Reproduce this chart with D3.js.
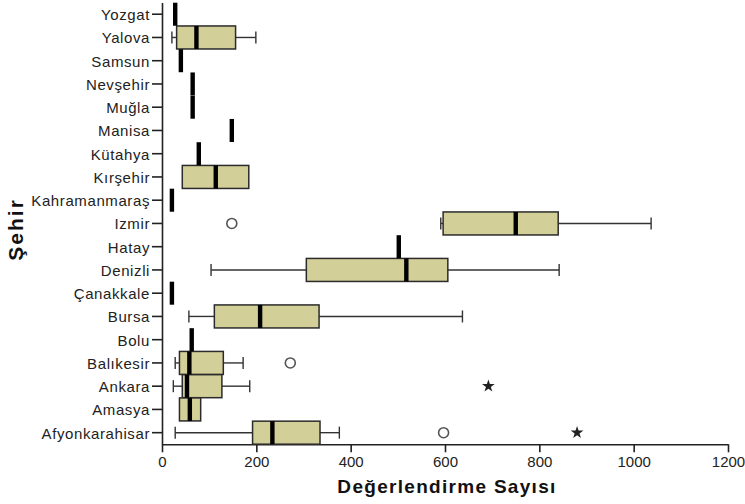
<!DOCTYPE html>
<html>
<head>
<meta charset="utf-8">
<script src="https://cdn.jsdelivr.net/npm/d3@7"></script>
<style>
  body { margin: 0; background: #fff; }
  svg { display: block; }
  .tick text { font-family: "Liberation Sans", Arial, sans-serif; fill: #222; }
</style>
</head>
<body>
<div id="chart"></div>
<script>
// cities top to bottom, as on the y axis
const cities = ["Yozgat", "Yalova", "Samsun", "Nevşehir", "Muğla", "Manisa", "Kütahya",
  "Kırşehir", "Kahramanmaraş", "Izmir", "Hatay", "Denizli", "Çanakkale", "Bursa",
  "Bolu", "Balıkesir", "Ankara", "Amasya", "Afyonkarahisar"];

// box plot stats (Değerlendirme Sayısı)
const lowWhisker = [28, 21, 40, 65, 65, 148, 78, 43, 21, 591, 502, 104, 21, 57, 63, 28, 24, 37, 28];
const q1 = [28, 31, 40, 65, 65, 148, 78, 43, 21, 596, 502, 306, 21, 111, 63, 37, 43, 37, 192];
const median = [28, 73, 40, 65, 65, 148, 78, 114, 21, 750, 502, 518, 21, 208, 63, 58, 53, 59, 234];
const q3 = [28, 156, 40, 65, 65, 148, 78, 184, 21, 840, 502, 606, 21, 333, 63, 130, 127, 82, 335];
const highWhisker = [28, 199, 40, 65, 65, 148, 78, 184, 21, 1037, 502, 842, 21, 637, 63, 172, 186, 82, 376];

// outliers (circles) and extremes (stars)
const outlierCity = ["Izmir", "Balıkesir", "Afyonkarahisar"];
const outlierValue = [148, 272, 597];
const extremeCity = ["Ankara", "Afyonkarahisar"];
const extremeValue = [692, 880];

const xTicks = [0, 200, 400, 600, 800, 1000, 1200];

const width = 745, height = 504;
const margin = { top: 2.6, right: 17, bottom: 59.7, left: 162 };

const svg = d3.select("#chart").append("svg")
  .attr("width", width)
  .attr("height", height);

const x = d3.scaleLinear()
  .domain([0, 1200])
  .range([margin.left, width - margin.right]);

const y = d3.scaleBand()
  .domain(cities)
  .range([margin.top, height - margin.bottom])
  .padding(0);

const boxH = y.bandwidth() * 0.99;
const capH = 12;
const cy = (c) => y(c) + y.bandwidth() / 2;

const data = cities.map((c, i) => ({
  city: c, lo: lowWhisker[i], q1: q1[i], med: median[i], q3: q3[i], hi: highWhisker[i]
}));

// axes
const xAxis = svg.append("g")
  .attr("transform", `translate(0,${height - margin.bottom})`)
  .call(d3.axisBottom(x).tickValues(xTicks).tickFormat(d3.format("d"))
    .tickSize(8).tickPadding(4.5).tickSizeOuter(0));
xAxis.selectAll("text").style("font-size", "15px");

const yAxis = svg.append("g")
  .attr("transform", `translate(${margin.left},0)`)
  .call(d3.axisLeft(y).tickSize(10).tickPadding(2).tickSizeOuter(0));
yAxis.selectAll("text")
  .style("font-size", "15px")
  .style("letter-spacing", "0.6px")
  .attr("dy", "0.4em");

svg.selectAll(".domain, .tick line").attr("stroke", "#222").attr("stroke-width", 1.6);

const g = svg.append("g");

// whiskers
g.selectAll(".wl").data(data.filter((d) => d.lo < d.q1)).enter().append("line")
  .attr("x1", (d) => x(d.lo)).attr("x2", (d) => x(d.q1))
  .attr("y1", (d) => cy(d.city)).attr("y2", (d) => cy(d.city));
g.selectAll(".wh").data(data.filter((d) => d.hi > d.q3)).enter().append("line")
  .attr("x1", (d) => x(d.q3)).attr("x2", (d) => x(d.hi))
  .attr("y1", (d) => cy(d.city)).attr("y2", (d) => cy(d.city));
g.selectAll(".cl").data(data.filter((d) => d.lo < d.q1)).enter().append("line")
  .attr("x1", (d) => x(d.lo)).attr("x2", (d) => x(d.lo))
  .attr("y1", (d) => cy(d.city) - capH / 2).attr("y2", (d) => cy(d.city) + capH / 2);
g.selectAll(".ch").data(data.filter((d) => d.hi > d.q3)).enter().append("line")
  .attr("x1", (d) => x(d.hi)).attr("x2", (d) => x(d.hi))
  .attr("y1", (d) => cy(d.city) - capH / 2).attr("y2", (d) => cy(d.city) + capH / 2);
g.selectAll("line").attr("stroke", "#333").attr("stroke-width", 1.4);

// boxes
g.selectAll("rect.box").data(data.filter((d) => d.q3 > d.q1)).enter().append("rect")
  .attr("class", "box")
  .attr("x", (d) => x(d.q1))
  .attr("width", (d) => x(d.q3) - x(d.q1))
  .attr("y", (d) => cy(d.city) - boxH / 2)
  .attr("height", boxH)
  .attr("fill", "#d3cf98")
  .attr("stroke", "#2b2b2b")
  .attr("stroke-width", 1.5);

// medians
g.selectAll("rect.med").data(data).enter().append("rect")
  .attr("class", "med")
  .attr("x", (d) => x(d.med) - 2.2)
  .attr("width", 4.4)
  .attr("y", (d) => cy(d.city) - boxH / 2)
  .attr("height", boxH)
  .attr("fill", "#000");

// outliers
g.selectAll("circle.out").data(outlierCity).enter().append("circle")
  .attr("class", "out")
  .attr("cx", (c, i) => x(outlierValue[i]))
  .attr("cy", (c) => cy(c))
  .attr("r", 5)
  .attr("fill", "none")
  .attr("stroke", "#555")
  .attr("stroke-width", 1.6);

g.selectAll("path.ext").data(extremeCity).enter().append("path")
  .attr("class", "ext")
  .attr("d", d3.symbol().type(d3.symbolStar).size(50))
  .attr("transform", (c, i) => `translate(${x(extremeValue[i])},${cy(c)})`)
  .attr("fill", "#222");

// axis titles
svg.append("text")
  .attr("x", (margin.left + width - margin.right) / 2 + 2)
  .attr("y", 493)
  .attr("text-anchor", "middle")
  .style("font-family", "Liberation Sans, Arial, sans-serif")
  .style("font-weight", "bold")
  .style("font-size", "19px")
  .style("letter-spacing", "1.3px")
  .attr("fill", "#111")
  .text("Değerlendirme Sayısı");

svg.append("text")
  .attr("transform", `translate(23,${(margin.top + height - margin.bottom) / 2 + 6}) rotate(-90)`)
  .attr("text-anchor", "middle")
  .style("font-family", "Liberation Sans, Arial, sans-serif")
  .style("font-weight", "bold")
  .style("font-size", "21px")
  .style("letter-spacing", "2px")
  .attr("fill", "#111")
  .text("Şehir");
</script>
</body>
</html>
